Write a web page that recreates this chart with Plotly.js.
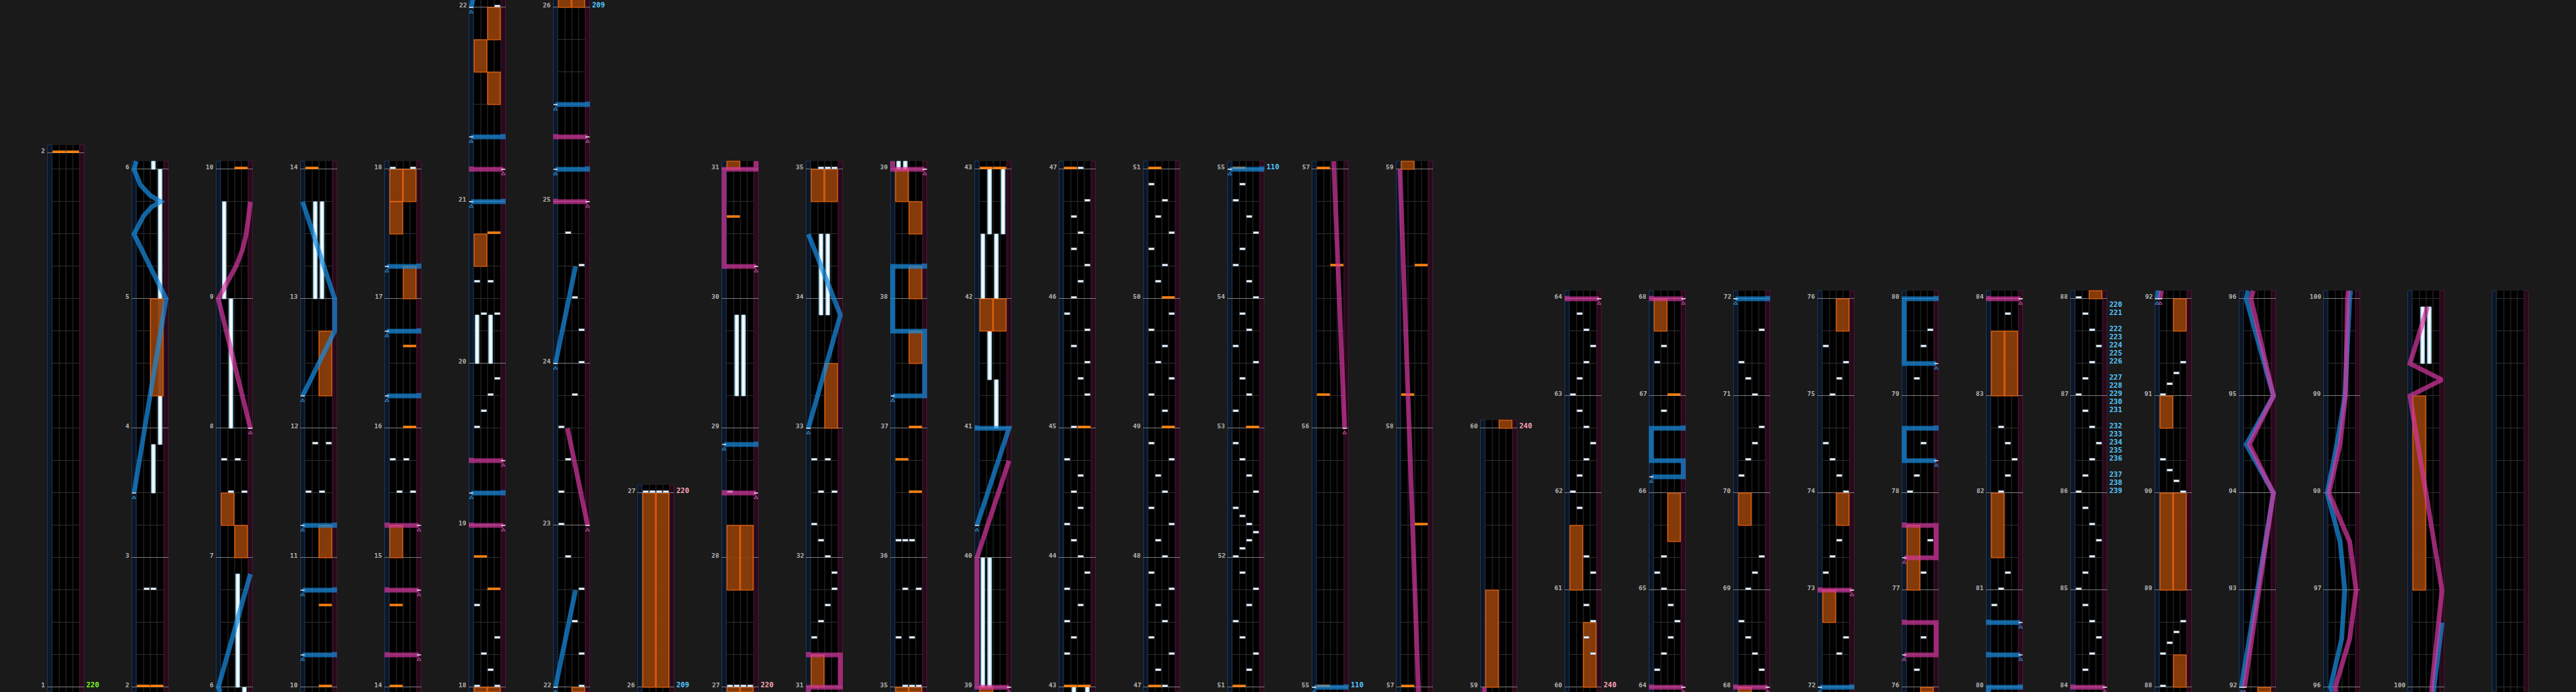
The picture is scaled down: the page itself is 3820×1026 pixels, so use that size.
<!DOCTYPE html>
<html><head><meta charset="utf-8">
<script src="https://cdn.plot.ly/plotly-3.0.1.min.js"></script>
<style>html,body{margin:0;padding:0;background:#1a1a1a;overflow:hidden}</style>
</head><body><div id="chart" style="width:3820px;height:1026px"></div>
<script>
// ---------- DATA ----------
// beats per measure, measure 1 .. 107
const measureBeats = [16.5,
 4,4,4,4,4,4,4,4,4,4,4,4,4,4,4,4,
 5,5,5,6,5,5,5,6,6,
 4,4,4,4,4,4,4,4,4,4,4,4,4,4,4,4,4,4,4,4,4,4,4,4,4,4,4,4,
 8,8,8,8,8,
 3,3,3,3,3,3,3,3,3,3,3,3,3,3,3,3,3,3,3,3,3,3,3,3,
 3,3,3,3,3,3,3,3,3,3,3,3,3,3,3,3,3,3,3,3,3,3,3,3];
const columnStarts = [1,2,6,10,14,18,22,26,27,31,35,39,43,47,51,55,57,59,60,64,68,72,76,80,84,88,92,96,100,104];
const chartEndMeasure = 108;
const lastNumberedMeasure = 100;
// [position (measure.fraction), bpm]
const bpmChanges = [[1,220],[26,209],[27,220],[55,110],[60,240],
 [86,239],[86.0833,238],[86.1667,237],[86.3333,236],[86.4167,235],[86.5,234],[86.5833,233],[86.6667,232],
 [86.8333,231],[86.9167,230],[87,229],[87.0833,228],[87.1667,227],[87.3333,226],[87.4167,225],[87.5,224],
 [87.5833,223],[87.6667,222],[87.8333,221],[87.9167,220]];
// BT chips [position, lane 0..3]
const btChips = [
 [2.75,1],[2.75,2],
 [7.5,1],[7.5,3],[7.75,0],[7.75,2],
 [11.5,0],[11.5,2],[11.875,1],[11.875,3],
 [15.5,1],[15.5,3],[15.75,0],[15.75,2],[18,0],[18,3],
 [18.1,2],[18.2,1],[18.3,3],[18.5,0],
 [19.6,0],[19.7,1],[19.8,2],[19.9,3],
 [20.3,1],[20.3,3],[20.5,0],[20.5,2],
 [22,3],[22.2,3],[22.4,2],[22.6,3],[22.8,1],
 [23,0],[23.2,0],[23.4,1],[23.6,0],[23.8,2],
 [24,3],[24.2,3],[24.4,2],[24.6,3],[24.8,1],
 [27,0],[27,1],[27,2],[27,3],
 [28.5,0],
 [31.375,0],[31.5,1],[31.625,2],[31.75,3],[31.875,3],[32,2],[32.125,1],[32.25,0],[32.5,1],[32.5,3],[32.75,0],[32.75,2],
 [35,1],[35,2],[35,3],[35.375,0],[35.375,2],[35.75,1],[35.75,3],[36.125,0],[36.125,1],[36.125,2],
 [43.25,0],[43.375,1],[43.5,0],[43.625,2],[43.75,0],[43.875,3],[44,2],
 [44.125,1],[44.25,0],[44.375,2],[44.5,1],[44.625,2],[44.75,0],
 [45,1],[45.25,3],[45.375,2],[45.5,3],[45.625,1],[45.75,3],[45.875,0],
 [46,1],[46.125,2],[46.25,3],[46.375,1],[46.5,2],[46.625,1],[46.75,3],[47,2],
 [47.125,1],[47.25,3],[47.375,0],[47.5,2],[47.625,1],[47.75,3],[47.875,0],
 [48,2],[48.125,1],[48.25,3],[48.375,0],[48.5,2],[48.625,1],[48.75,3],[48.875,0],
 [49.125,2],[49.25,0],[49.375,3],[49.5,1],[49.625,2],[49.75,0],[49.875,3],
 [50.125,1],[50.25,2],[50.375,0],[50.5,3],[50.625,1],[50.75,2],[50.875,0],
 [51.125,2],[51.25,3],[51.375,1],[51.5,0],[51.625,2],[51.75,3],[51.875,1],
 [52,0],[52.0625,1],[52.125,2],[52.1875,3],[52.25,2],[52.3125,1],[52.375,0],[52.5,3],[52.625,2],[52.75,1],[52.875,0],
 [53.125,0],[53.25,2],[53.375,1],[53.5,3],[53.625,0],[53.75,2],[53.875,1],
 [54,3],[54.125,2],[54.25,0],[54.375,1],[54.5,3],[54.625,2],[54.75,0],[54.875,1],
 [60.3333,3],[60.5,2],[60.6667,3],[60.8333,2],[61.1667,3],[61.3333,2],[61.8333,1],
 [62,0],[62.1667,1],[62.3333,2],[62.5,3],[62.6667,2],[62.8333,1],
 [63,0],[63.1667,1],[63.3333,2],[63.5,3],[63.6667,2],[63.8333,1],
 [64.1667,0],[64.3333,1],[64.5,2],[64.6667,3],[64.8333,2],[65,1],[65.1667,0],[65.3333,1],
 [66.8333,1],[67.3333,0],[67.5,1],
 [68.1667,3],[68.3333,2],[68.5,1],[68.6667,0],[69,1],[69.1667,2],[69.3333,3],
 [70.1667,0],[70.3333,1],[70.5,2],[70.6667,3],[71,2],[71.1667,1],[71.3333,0],[71.6667,3],
 [72.3333,2],[72.5,3],[73.1667,0],[73.3333,1],[73.5,2],[74,3],[74.1667,2],[74.3333,1],[74.5,0],
 [75,1],[75.1667,2],[75.3333,3],[75.5,0],
 [76.1667,1],[76.5,2],[77.1667,2],[77.5,3],[78,0],[78.1667,1],[78.5,2],[79.1667,1],[79.5,2],[79.6667,3],
 [80.8333,0],[81,1],[81.1667,2],[82,1],[82.1667,2],[82.3333,3],[82.5,2],[82.6667,1],[83.8333,2],
 [84.1667,1],[84.3333,2],[84.5,3],[84.6667,2],[84.8333,1],[85,0],[85.1667,1],[85.3333,2],[85.5,3],[85.6667,2],[85.8333,1],
 [86,0],[86.1667,1],[86.3333,2],[86.5,3],[86.6667,2],[86.8333,1],[87,0],[87.1667,1],[87.3333,2],[87.5,3],[87.6667,2],[87.8333,1],[88,0],
 [88.3333,0],[88.4444,1],[88.5556,2],[88.6667,3],
 [90,3],[90.1111,2],[90.2222,1],[90.3333,0],[91,0],[91.1111,1],[91.2222,2],[91.3333,3]
];
// FX chips [position, side 0=L 1=R]
const fxChips = [[2,0],[2,1],[10,1],[10.625,1],[14,0],[14.625,0],[16,1],[16.625,1],[18.6,1],[18.8,0],[20.8,1],
 [30.625,0],[36.5,1],[36.75,0],[37,1],[43,0],[43,1],[45,1],[47,0],[49,1],[50,1],[51,0],[53,1],[55,0],
 [56.125,0],[56.625,1],[57,0],[57.625,1],[58.125,0],[58.625,1],[67,1]];
// BT holds [start, end, lane]
const btHolds = [[3.5,3.875,2],[3.875,6,3],[6,6.875,2],[8,9,1],[9,9.75,0],[13,13.75,1],[13,13.75,2],
 [20,20.3,0],[20,20.3,2],[29.25,29.875,1],[29.25,29.875,2],[33.875,34.5,1],[33.875,34.5,2],[39,40,0],[39,40,1],
 [41,41.375,2],[41.375,41.75,1],[42,42.5,0],[42,42.5,2],[42.5,43,1],[42.5,43,3],
 [103.3333,103.9167,1],[103.3333,103.9167,2]];
// FX holds [start, end, side]
const fxHolds = [[4.25,5,1],[7,7.25,1],[7.25,7.5,0],[11,11.25,1],[12.25,12.75,1],[15,15.25,0],[17,17.25,1],
 [17.5,17.75,0],[17.75,18,0],[17.75,18,1],[20.6,20.8,0],[21.5,21.6667,1],[21.6667,21.8333,0],[21.8333,22,1],
 [26,27,0],[26,27,1],[27.75,28.25,0],[27.75,28.25,1],[31,31.25,0],[33,33.5,1],[34.75,35,0],[34.75,35,1],
 [37.5,37.75,1],[38,38.25,1],[38.5,38.75,1],[38.75,39,0],[41.75,42,0],[41.75,42,1],
 [59,59.375,0],[60,60.6667,1],[61,61.6667,0],[65.5,66,1],[67.6667,68,0],[69.6667,70,0],[72.6667,73,0],
 [73.6667,74,1],[75.6667,76,1],[77,77.6667,0],[81.3333,82,0],[83,83.6667,0],[83,83.6667,1],
 [88,88.3333,1],[89,90,0],[89,90,1],[90.6667,91,0],[91.6667,92,1],[101,103,0]];
// lasers: list of [position, x 0..1]
const leftLasers = [
 [[3.5,0],[5,1],[5.5,0],[5.64,0.3],[5.71,0.55],[5.75,0.83],[5.8,0.5],[5.88,0.2],[6,0],[6.875,1]],
 [[10.25,0],[10.25,1]],[[10.75,0],[10.75,1]],[[11.25,0],[11.25,1]],
 [[12.25,0],[12.75,1],[13,1],[13.75,0]],
 [[16.25,0],[16.25,1]],[[16.75,0],[16.75,1]],[[17.25,0],[17.25,1]],
 [[19.2,0],[19.2,1]],[[21,0],[21,1]],[[21.3333,0],[21.3333,1]],
 [[22,0],[22.6,0.625]],[[24,0],[24.6,0.625]],
 [[25.1667,0],[25.1667,1]],[[25.5,0],[25.5,1]],
 [[28.875,0],[28.875,1]],
 [[33,0],[33.875,1],[34.5,0]],
 [[37.25,0],[37.25,1],[37.75,1],[37.75,0],[38.25,0],[38.25,1]],
 [[40.25,0],[41,1],[41,0]],
 [[55,0],[55,1]],
 [[66.1667,0],[66.1667,1],[66.3333,1],[66.3333,0],[66.6667,0],[66.6667,1]],
 [[72,0],[72,1]],
 [[78.3333,1],[78.3333,0],[78.6667,0],[78.6667,1]],
 [[79.3333,1],[79.3333,0],[80,0],[80,1]],
 [[80.3333,1],[80.3333,0]],[[80.6667,1],[80.6667,0]],
 [[92,0],[94,1],[94.5,0.15],[95,1],[96,0.15],[96.5,0.5],[97,0.6],[97.5,0.45],[98,0.05],[98.5,0.35],[99,0.6],[100,0.75],[100.6667,1]]
];
const rightLasers = [
 [[8,1],[9,0],[9.125,0.27],[9.25,0.55],[9.375,0.75],[9.5,0.87],[9.625,0.94],[9.75,1]],
 [[14.25,1],[14.25,0]],[[14.75,1],[14.75,0]],[[15.25,1],[15.25,0]],
 [[19,1],[19,0]],[[19.4,1],[19.4,0]],[[21.1667,1],[21.1667,0]],
 [[23,1],[23.6,0.375]],
 [[25,1],[25,0]],[[25.3333,1],[25.3333,0]],
 [[28.5,1],[28.5,0]],
 [[30.25,1],[30.25,0],[31,0],[31,1],[31.25,1],[31.25,0]],
 [[39,1],[39,0],[40,0],[40.75,1]],
 [[56,0.95],[57,0.62],[59,0.05]],
 [[64,1],[64,0]],[[68,1],[68,0]],[[73,1],[73,0]],
 [[76.3333,0],[76.3333,1],[76.6667,1],[76.6667,0]],
 [[77.3333,0],[77.3333,1],[77.6667,1],[77.6667,0]],
 [[84,1],[84,0]],
 [[92,0.1],[94,1],[94.5,0.25],[95,1],[96,0.3],[96.5,0.75],[97,0.95],[97.5,0.75],[98,0.1],[98.5,0.45],[99,0.62],[100,0.68],
  [101,1],[103,0],[103.1667,1],[103.3333,0],[103.9167,0.55]]
];

// ---------- RENDER ----------
const PXB = 48;                 // pixels per beat
const COLW = 12.5;              // column pitch in lane units (1 lane = 10 px)
const cum = [0, 0];
for (let m = 1; m <= measureBeats.length; m++) cum[m + 1] = cum[m] + measureBeats[m - 1];
function beatOf(pos) {
  let m = Math.floor(pos + 1e-6); let f = pos - m; if (f < 0) f = 0;
  if (m > measureBeats.length) return cum[measureBeats.length + 1];
  return cum[m] + f * measureBeats[m - 1];
}
const laserU = p => -0.375 + p * 4.75;

const traces = [], annotations = [];
const layout = {
  width: 3820, height: 1026, margin: {l: 0, r: 0, t: 0, b: 0},
  paper_bgcolor: '#1a1a1a', plot_bgcolor: '#1a1a1a', showlegend: false,
  xaxis: {range: [-7.75, 374.25], visible: false, fixedrange: true},
};

function rectPoly(rs) { const x = [], y = []; rs.forEach(([x0, x1, y0, y1]) => { x.push(x0, x1, x1, x0, x0, null); y.push(y0, y0, y1, y1, y0, null); }); return {x, y}; }
function segs(ss) { const x = [], y = []; ss.forEach(([x0, y0, x1, y1]) => { x.push(x0, x1, null); y.push(y0, y1, null); }); return {x, y}; }
function clipPoly(pts, lo, hi) {
  const out = [];
  for (let i = 0; i < pts.length - 1; i++) {
    const [y0, x0] = pts[i], [y1, x1] = pts[i + 1]; const dy = y1 - y0;
    let t0 = 0, t1 = 1;
    if (Math.abs(dy) < 1e-12) { if (y0 < lo || y0 > hi) continue; }
    else { const ta = (lo - y0) / dy, tb = (hi - y0) / dy; t0 = Math.max(0, Math.min(ta, tb)); t1 = Math.min(1, Math.max(ta, tb)); if (t0 > t1) continue; }
    const p0 = [y0 + t0 * dy, x0 + t0 * (x1 - x0)], p1 = [y0 + t1 * dy, x0 + t1 * (x1 - x0)];
    const last = out.length ? out[out.length - 1] : null;
    if (last && Math.abs(last[0] - p0[0]) < 1e-9 && Math.abs(last[1] - p0[1]) < 1e-9) out.push(p1);
    else { if (out.length) out.push(null); out.push(p0, p1); }
  }
  return out;
}
function poly(ya, d, fill, line, lw) {
  traces.push({type: 'scatter', mode: 'lines', x: d.x, y: d.y, yaxis: ya, fill: 'toself', fillcolor: fill,
    line: {color: line || fill, width: lw === undefined ? 0 : lw}, hoverinfo: 'skip'});
}
function lines(ya, d, color, w) {
  traces.push({type: 'scatter', mode: 'lines', x: d.x, y: d.y, yaxis: ya, line: {color: color, width: w}, hoverinfo: 'skip'});
}

// bpm colours: first = green, slower = cyan, faster = pink
const bpmColor = [];
bpmChanges.forEach((b, i) => { bpmColor.push(i === 0 ? '#77ff22' : (b[1] < bpmChanges[i - 1][1] ? '#55c8ff' : '#ffa4b8')); });

const H = 0.5 / PXB; // half-pixel in beats
columnStarts.forEach((ms, k) => {
  const me = k + 1 < columnStarts.length ? columnStarts[k + 1] : chartEndMeasure;
  const s = cum[ms], e = cum[me];
  const lo = s - 7 / PXB, hi = e + 12 / PXB;
  const ya = k === 0 ? 'y' : 'y' + (k + 1);
  const yk = k === 0 ? 'yaxis' : 'yaxis' + (k + 1);
  layout[yk] = {range: [lo, lo + 1026 / PXB], visible: false, fixedrange: true, anchor: 'x'};
  if (k > 0) layout[yk].overlaying = 'y';
  const o = COLW * k;
  // lanes
  poly(ya, rectPoly([[o, o + 4, lo, hi]]), '#000000');
  poly(ya, rectPoly([[o - 0.7, o - 0.05, lo, hi]]), '#0c1627', '#1d3857', 1);
  poly(ya, rectPoly([[o + 4.05, o + 4.7, lo, hi]]), '#270a1b', '#4a1733', 1);
  // beat grid
  const bl = [];
  for (let m = 1; m <= measureBeats.length; m++) {
    for (let j = 0; j < measureBeats[m - 1]; j++) { const b = cum[m] + j; if (b >= lo && b <= hi) bl.push([o, b + H, o + 4, b + H]); }
  }
  const lastB = cum[measureBeats.length + 1]; if (lastB >= lo && lastB <= hi) bl.push([o, lastB + H, o + 4, lastB + H]);
  for (let i = 1; i < 4; i++) bl.push([o + i + 0.05, lo, o + i + 0.05, hi]);
  lines(ya, segs(bl), '#2e2e2e', 1);
  // measure lines + labels
  const ml = [];
  for (let m = ms; m <= me; m++) {
    if (m > lastNumberedMeasure) break;
    ml.push([o - 0.75, cum[m] + H, o + 4.75, cum[m] + H]);
    annotations.push({x: o - 0.85, y: cum[m], xref: 'x', yref: ya, text: '<b>' + m + '</b>', showarrow: false,
      xanchor: 'right', yanchor: 'middle', yshift: 4, font: {family: 'DejaVu Sans Mono', size: 9.5, color: '#b2b2b2'}});
  }
  lines(ya, segs(ml), '#7c7c7c', 1);
  // bpm labels
  bpmChanges.forEach((b, i) => {
    const bb = beatOf(b[0]);
    if (bb >= s - 1e-6 && bb <= e + 1e-6) annotations.push({x: o + 4.8, y: bb, xref: 'x', yref: ya, text: '<b>' + b[1] + '</b>',
      showarrow: false, xanchor: 'left', yanchor: 'middle', yshift: 4, font: {family: 'DejaVu Sans Mono', size: 10.5, color: bpmColor[i]}});
  });
  const inWin = b => b >= lo - 0.08 && b <= hi;
  // BT holds
  const bho = [], bhi = [];
  btHolds.forEach(([a, b, l]) => { const y0 = Math.max(beatOf(a), lo), y1 = Math.min(beatOf(b), hi); if (y1 > y0) { bho.push([o + l + 0.2, o + l + 0.8, y0, y1]); bhi.push([o + l + 0.36, o + l + 0.64, y0, y1]); } });
  if (bho.length) { poly(ya, rectPoly(bho), '#b9dced', '#8ab4c8', 1); poly(ya, rectPoly(bhi), '#ffffff'); }
  // FX holds
  const fh = [];
  fxHolds.forEach(([a, b, sd]) => { const y0 = Math.max(beatOf(a), lo), y1 = Math.min(beatOf(b), hi); if (y1 > y0) fh.push([o + sd * 2 + 0.06, o + sd * 2 + 1.94, y0, y1]); });
  if (fh.length) poly(ya, rectPoly(fh), 'rgba(142,62,10,0.93)', '#ff6a0a', 1.2);
  // FX chips
  const fc = [];
  fxChips.forEach(([p, sd]) => { const b = beatOf(p); if (inWin(b)) fc.push([o + sd * 2 + 0.06, o + sd * 2 + 1.94, b + 0.5 / PXB, b + 3.5 / PXB]); });
  if (fc.length) poly(ya, rectPoly(fc), '#ff7c0c', '#ff9a20', 0.5);
  // BT chips
  const bc = [];
  btChips.forEach(([p, l]) => { const b = beatOf(p); if (inWin(b)) bc.push([o + l + 0.1, o + l + 0.9, b + 0.5 / PXB, b + 3.5 / PXB]); });
  if (bc.length) poly(ya, rectPoly(bc), '#f4f8fb', '#8797a6', 1);
  // lasers
  [[leftLasers, 'rgba(24,138,222,0.72)', '#2f86c4'], [rightLasers, 'rgba(214,56,160,0.70)', '#b8489a']].forEach(([set, col, mk]) => {
    const xs = [], ys = [], sx = [], sy = [], tk = [];
    set.forEach(l => {
      const pts = l.map(([p, v]) => [beatOf(p), o + laserU(v)]);
      const n = pts.length;
      if (n >= 2 && Math.abs(pts[n - 1][0] - pts[n - 2][0]) < 1e-9) pts.push([pts[n - 1][0] + 0.09, pts[n - 1][1]]);
      const c = clipPoly(pts, lo, hi);
      if (c.length) { if (xs.length) { xs.push(null); ys.push(null); } c.forEach(q => { xs.push(q ? q[1] : null); ys.push(q ? q[0] : null); }); }
      if (pts[0][0] >= lo && pts[0][0] <= hi) { sx.push(pts[0][1]); sy.push(pts[0][0] - 7 / PXB); tk.push([pts[0][1] - 0.3, pts[0][0], pts[0][1] + 0.3, pts[0][0]]); }
    });
    if (xs.length) traces.push({type: 'scatter', mode: 'lines', x: xs, y: ys, yaxis: ya, line: {color: col, width: 7}, hoverinfo: 'skip'});
    if (sx.length) {
      traces.push({type: 'scatter', mode: 'markers', x: sx, y: sy, yaxis: ya, marker: {symbol: 'triangle-up-open', size: 5, color: mk, line: {width: 1.2, color: mk}}, hoverinfo: 'skip'});
      lines(ya, segs(tk), '#e8eef4', 1.5);
    }
  });
});
layout.annotations = annotations;
Plotly.newPlot('chart', traces, layout, {displayModeBar: false, staticPlot: true});
</script></body></html>
